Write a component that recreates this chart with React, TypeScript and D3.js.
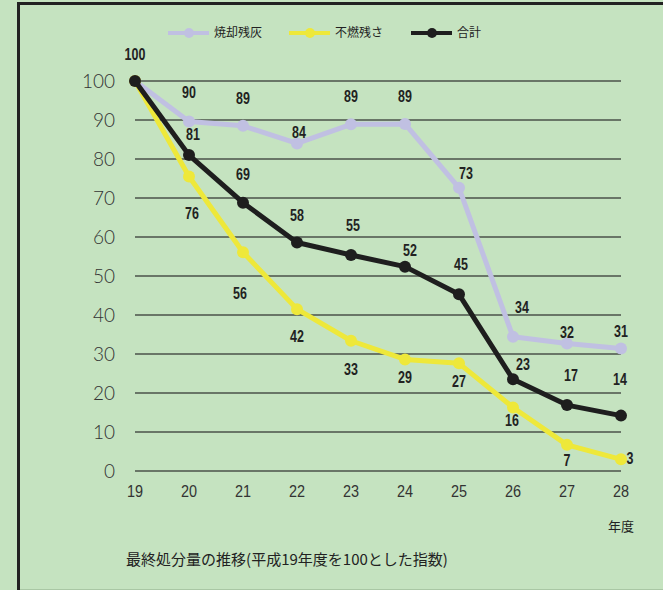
import React from "react";
import * as d3 from "d3";

const years = ["19", "20", "21", "22", "23", "24", "25", "26", "27", "28"];
const ashValues = [100, 89.6, 88.5, 84, 88.9, 89, 72.6, 34.4, 32.7, 31.4];
const ashLabels = ["100", "90", "89", "84", "89", "89", "73", "34", "32", "31"];
const residueValues = [100, 75.5, 56.1, 41.5, 33.4, 28.6, 27.6, 16.3, 6.7, 3];
const residueLabels = ["", "76", "56", "42", "33", "29", "27", "16", "7", "3"];
const totalValues = [100, 81, 68.8, 58.6, 55.4, 52.4, 45.3, 23.5, 16.9, 14.2];
const totalLabels = ["", "81", "69", "58", "55", "52", "45", "23", "17", "14"];
const yTicks = [0, 10, 20, 30, 40, 50, 60, 70, 80, 90, 100];
const seriesNames = ["焼却残灰", "不燃残さ", "合計"];
const xUnit = "年度";
const caption = "最終処分量の推移(平成19年度を100とした指数)";

// label offsets (layout, px) relative to the point
const ashOffsets: [number, number][] = [[0, -27], [0, -29], [0, -28], [2, -11], [0, -28], [0, -28], [7, -15], [9, -30], [0, -11], [0, -17]];
const residueOffsets: [number, number][] = [[0, 0], [3, 37], [-3, 41], [0, 27], [0, 28], [0, 18], [0, 18], [-1, 13], [0, 15], [9, -1]];
const totalOffsets: [number, number][] = [[0, 0], [4, -21], [0, -28], [0, -27], [2, -30], [5, -16], [2, -30], [10, -15], [4, -30], [-1, -36]];

const W = 663;
const H = 590;
const BG = "#c5e3c0";
const ASH = "#c0c0e2";
const RES = "#eee83a";
const TOT = "#1e1e1e";

export default function App() {
  const x = d3.scalePoint<string>().domain(years).range([135, 621]);
  const y = d3.scaleLinear().domain([0, 100]).range([471, 81]);
  const line = d3
    .line<number>()
    .x((_, i) => x(years[i]) as number)
    .y((d) => y(d));

  const series = [
    { name: seriesNames[0], vals: ashValues, labels: ashLabels, offs: ashOffsets, color: ASH },
    { name: seriesNames[1], vals: residueValues, labels: residueLabels, offs: residueOffsets, color: RES },
    { name: seriesNames[2], vals: totalValues, labels: totalLabels, offs: totalOffsets, color: TOT },
  ];
  const legendX = [168, 289, 411];
  const numFont = "'Liberation Sans', 'Roboto', sans-serif";
  const axisFont = "'Lato', 'Noto Sans', sans-serif";
  const cjk = "'Noto Sans CJK JP', sans-serif";

  return (
    <div style={{ position: "absolute", left: 0, top: 0 }}>
      <svg width={W} height={H} viewBox={`0 0 ${W} ${H}`} style={{ display: "block" }}>
        <rect x={0} y={0} width={W} height={H} fill={BG} />
        <line x1={17} x2={W} y1={3.5} y2={3.5} stroke="#222" strokeWidth={3} />
        <line x1={18.5} x2={18.5} y1={2} y2={H} stroke="#222" strokeWidth={3} />
        <line x1={20} x2={W} y1={H - 0.5} y2={H - 0.5} stroke="#a9c7a4" strokeWidth={1} />

        {/* grid */}
        {yTicks.map((t) => (
          <g key={t}>
            <line x1={135} x2={621} y1={y(t)} y2={y(t)} stroke="#4a524a" strokeWidth={1.5} />
            <text x={115} y={y(t)} dy="0.36em" textAnchor="end" fontFamily={axisFont} fontWeight={300} fontSize={19} fill="#333">
              {t}
            </text>
          </g>
        ))}
        {years.map((yr) => (
          <text
            key={yr}
            transform={`translate(${x(yr)},497) scale(0.85,1)`}
            textAnchor="middle"
            fontFamily={numFont}
            fontSize={17}
            fill="#333"
          >
            {yr}
          </text>
        ))}

        {/* lines */}
        {series.map((s) => (
          <g key={s.name}>
            <path d={line(s.vals) as string} fill="none" stroke={s.color} strokeWidth={5} strokeLinejoin="round" />
            {s.vals.map((v, i) => (
              <circle key={i} cx={x(years[i])} cy={y(v)} r={6} fill={s.color} />
            ))}
          </g>
        ))}

        {/* labels */}
        {series.map((s) =>
          s.labels.map((lab, i) =>
            lab ? (
              <text
                key={s.name + i}
                transform={`translate(${(x(years[i]) as number) + s.offs[i][0]},${y(s.vals[i]) + s.offs[i][1]}) scale(0.78,1)`}
                dy="0.36em"
                textAnchor="middle"
                fontFamily={numFont}
                fontWeight="bold"
                fontSize={16}
                fill="#222"
              >
                {lab}
              </text>
            ) : null
          )
        )}

        {/* legend */}
        {series.map((s, i) => (
          <g key={"lg" + s.name}>
            <line x1={legendX[i]} x2={legendX[i] + 41} y1={33} y2={33} stroke={s.color} strokeWidth={4} />
            <circle cx={legendX[i] + 21} cy={33} r={5} fill={s.color} />
            <text x={legendX[i] + 46} y={33} dy="0.36em" fontFamily={cjk} fontSize={12} fill="#222">
              {s.name}
            </text>
          </g>
        ))}

        <text x={621} y={526} dy="0.36em" textAnchor="middle" fontFamily={cjk} fontSize={13} fill="#222">
          {xUnit}
        </text>
        <text x={287} y={560} dy="0.36em" textAnchor="middle" fontFamily={cjk} fontSize={15} fill="#222">
          {caption}
        </text>
      </svg>
    </div>
  );
}
